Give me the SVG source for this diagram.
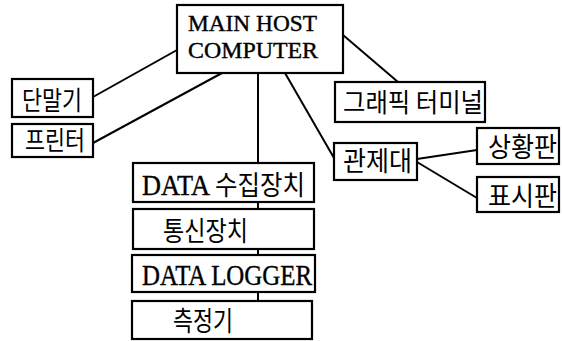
<svg xmlns="http://www.w3.org/2000/svg" width="562" height="341" viewBox="0 0 562 341">
<style>
.box{fill:#fff;stroke:#000;stroke-width:2.2}
.ln{fill:none;stroke:#000;stroke-width:2}
.en{font-family:"Liberation Serif","Times New Roman",serif;fill:#000;stroke:#000;stroke-width:0.4}
.ko{font-family:"Noto Sans CJK KR","Noto Sans CJK SC",sans-serif;fill:#000}
</style>
<rect width="562" height="341" fill="#fff"/>
<g id="connectors">
<line class="ln" x1="93" y1="97" x2="177" y2="50"/>
<line class="ln" x1="93" y1="143" x2="222" y2="73"/>
<line class="ln" x1="258" y1="73" x2="258" y2="163"/>
<line class="ln" x1="258" y1="202" x2="258" y2="209"/>
<line class="ln" x1="258" y1="249" x2="258" y2="255"/>
<line class="ln" x1="258" y1="292" x2="258" y2="301"/>
<line class="ln" x1="285" y1="73" x2="334" y2="158"/>
<line class="ln" x1="343" y1="35" x2="398" y2="82"/>
<line class="ln" x1="417" y1="159" x2="477" y2="150"/>
<line class="ln" x1="417" y1="162" x2="477" y2="198"/>
</g>
<g id="main">
<rect class="box" x="177" y="5" width="166" height="68"/>
<text class="en" x="188" y="31" font-size="24" textLength="129" lengthAdjust="spacingAndGlyphs">MAIN HOST</text>
<text class="en" x="188" y="58" font-size="24" textLength="130" lengthAdjust="spacingAndGlyphs">COMPUTER</text>
</g>
<g id="terminal">
<rect class="box" x="12" y="79" width="81" height="38"/>
<text class="ko" x="22" y="110" font-size="26" textLength="60" lengthAdjust="spacingAndGlyphs">단말기</text>
</g>
<g id="printer">
<rect class="box" x="12" y="124" width="81" height="33"/>
<text class="ko" x="25" y="150" font-size="26" textLength="60" lengthAdjust="spacingAndGlyphs">프린터</text>
</g>
<g id="graphic">
<rect class="box" x="335" y="82" width="150" height="40"/>
<text class="ko" x="343" y="112" font-size="26" textLength="140" lengthAdjust="spacingAndGlyphs">그래픽 터미널</text>
</g>
<g id="control">
<rect class="box" x="334" y="143" width="83" height="37"/>
<text class="ko" x="343" y="171" font-size="27" textLength="69" lengthAdjust="spacingAndGlyphs">관제대</text>
</g>
<g id="status">
<rect class="box" x="477" y="128" width="82" height="36"/>
<text class="ko" x="488" y="157" font-size="27" textLength="69" lengthAdjust="spacingAndGlyphs">상황판</text>
</g>
<g id="display">
<rect class="box" x="477" y="177" width="82" height="35"/>
<text class="ko" x="488" y="206" font-size="27" textLength="69" lengthAdjust="spacingAndGlyphs">표시판</text>
</g>
<g id="collect">
<rect class="box" x="133" y="163" width="181" height="39"/>
<text x="142" y="195" textLength="163" lengthAdjust="spacingAndGlyphs" font-size="29"><tspan class="en">DATA </tspan><tspan class="ko" font-size="27">수집장치</tspan></text>
</g>
<g id="comm">
<rect class="box" x="133" y="209" width="181" height="40"/>
<text class="ko" x="163" y="241" font-size="27" textLength="85" lengthAdjust="spacingAndGlyphs">통신장치</text>
</g>
<g id="logger">
<rect class="box" x="132" y="255" width="183" height="37"/>
<text class="en" x="142" y="285" font-size="30" textLength="170" lengthAdjust="spacingAndGlyphs">DATA LOGGER</text>
</g>
<g id="meter">
<rect class="box" x="132" y="301" width="180" height="38"/>
<text class="ko" x="173" y="331" font-size="27" textLength="60" lengthAdjust="spacingAndGlyphs">측정기</text>
</g>
</svg>
